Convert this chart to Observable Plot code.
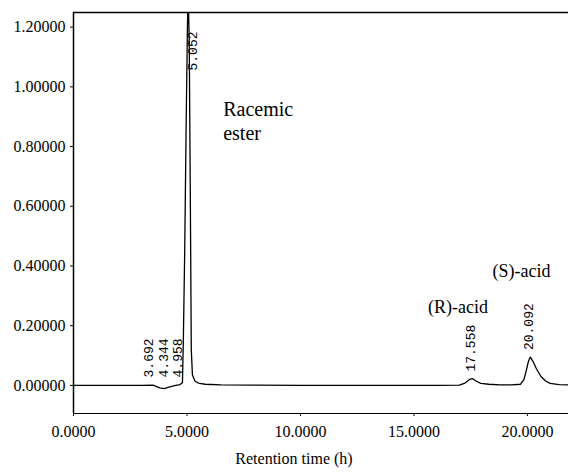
<!DOCTYPE html>
<html><head><meta charset="utf-8">
<script src="https://cdn.jsdelivr.net/npm/d3@7"></script>
<script src="https://cdn.jsdelivr.net/npm/@observablehq/plot@0.6"></script>
<style>
body{margin:0;background:#fff}
g[aria-label="minor peak labels"] text, g[aria-label="main peak label"] text {letter-spacing:2px}
g[aria-label="acid peak labels"] text {letter-spacing:1.5px}
g[aria-label="ester name"] text {letter-spacing:1px}
g[aria-label="acid names"] text {letter-spacing:1.5px}
</style>
</head><body><div id="chart"></div>
<script>
// Chromatogram trace (retention time, detector signal)
const traceTime   = [0, 1, 2, 3, 3.5, 3.8, 4.0, 4.2, 4.5, 4.7, 4.8, 4.84, 4.9, 4.96, 5.02, 5.05, 5.1, 5.15, 5.19, 5.24, 5.35, 5.5, 5.8, 6.5, 8, 10, 12, 14, 16, 17.0, 17.25, 17.45, 17.58, 17.75, 17.95, 18.3, 18.8, 19.3, 19.7, 19.85, 19.95, 20.05, 20.13, 20.25, 20.4, 20.6, 20.8, 21.0, 21.4, 21.81];
const traceSignal = [0, 0, 0, 0, 0.001, -0.008, -0.011, -0.006, 0.0, 0.003, 0.01, 0.15, 0.45, 0.85, 1.2, 1.32, 1.15, 0.6, 0.12, 0.035, 0.015, 0.008, 0.004, 0.002, 0.001, 0, 0, 0, 0, 0.001, 0.008, 0.02, 0.023, 0.014, 0.007, 0.004, 0.002, 0.002, 0.004, 0.02, 0.05, 0.082, 0.095, 0.08, 0.055, 0.03, 0.015, 0.007, 0.003, 0.002];

// Peak retention-time labels
const minorPeakTimes  = [3.692, 4.344, 4.958];
const minorPeakLabels = ["3.692", "4.344", "4.958"];
const acidPeakTimes   = [17.558, 20.092];
const acidPeakLabels  = ["17.558", "20.092"];
const acidPeakApex    = [0.023, 0.095];
const mainPeakTime    = 5.052;
const mainPeakLabel   = "5.052";

const acidNames = ["(R)-acid", "(S)-acid"];
const esterName = "Racemic\nester";

const xTicks = [0, 5, 10, 15, 20];
const yTicks = [0, 0.2, 0.4, 0.6, 0.8, 1.0, 1.2];
const xDomain = [0, 21.81];
const yDomain = [-0.094, 1.249];
const xLabel = "Retention time (h)";

const trace = traceTime.map((t, i) => ({t, v: traceSignal[i]}));
const minor = minorPeakTimes.map((t, i) => ({t, label: minorPeakLabels[i]}));
const acids = acidPeakTimes.map((t, i) => ({t, label: acidPeakLabels[i], apex: acidPeakApex[i], name: acidNames[i]}));

const serif = "'Liberation Serif', 'Times New Roman', 'DejaVu Serif', serif";
const mono = {fontFamily: "Liberation Mono, monospace", fontSize: 13, rotate: -90, textAnchor: "start", fill: "black"};

const chart = Plot.plot({
  width: 568, height: 476,
  marginLeft: 73, marginRight: 0, marginTop: 12, marginBottom: 63,
  x: {domain: xDomain},
  y: {domain: yDomain},
  style: {fontFamily: serif, background: "white", color: "black"},
  marks: [
    Plot.ruleX([xDomain[0]], {stroke: "black", strokeWidth: 1.5}),
    Plot.ruleY([yDomain[0]], {stroke: "black", strokeWidth: 1.2}),
    Plot.ruleY([yDomain[1]], {stroke: "black", strokeWidth: 1.6}),
    Plot.axisY({ticks: yTicks, tickFormat: d3.format(".5f"), tickSize: 3, tickPadding: 5, fontSize: 16, fontFamily: serif, label: null}),
    Plot.axisX({ticks: xTicks, tickFormat: d3.format(".4f"), tickSize: 3, tickPadding: 9, fontSize: 16, fontFamily: serif, label: null}),
    Plot.line(trace, {x: "t", y: "v", stroke: "black", strokeWidth: 1.3, clip: true}),
    Plot.text(minor, {x: "t", y: 0, text: "label", dx: -8, dy: -8, ...mono, ariaLabel: "minor peak labels"}),
    Plot.text(acids, {x: "t", y: "apex", text: "label", dx: -1, dy: -7, ...mono, ariaLabel: "acid peak labels"}),
    Plot.text([mainPeakLabel], {x: mainPeakTime, frameAnchor: "top", text: d => d, dy: 58, ...mono, ariaLabel: "main peak label"}),
    Plot.text([esterName], {x: mainPeakTime, frameAnchor: "top", text: d => d, dx: 35, dy: 86, textAnchor: "start", lineAnchor: "top", fontSize: 20, lineHeight: 1.2, fontFamily: serif, fill: "black", ariaLabel: "ester name"}),
    Plot.text([acids[0]], {x: "t", y: "apex", text: "name", dx: -14, dy: -66, lineAnchor: "bottom", fontSize: 18, fontFamily: serif, fill: "black", ariaLabel: "acid names"}),
    Plot.text([acids[1]], {x: "t", y: "apex", text: "name", dx: -8, dy: -80, lineAnchor: "bottom", fontSize: 18, fontFamily: serif, fill: "black", ariaLabel: "acid names"}),
    Plot.text([xLabel], {frameAnchor: "bottom", text: d => d, dx: -27, dy: 50, fontSize: 16, fontFamily: serif, fill: "black"})
  ]
});
document.getElementById("chart").append(chart);
</script>
</body></html>
